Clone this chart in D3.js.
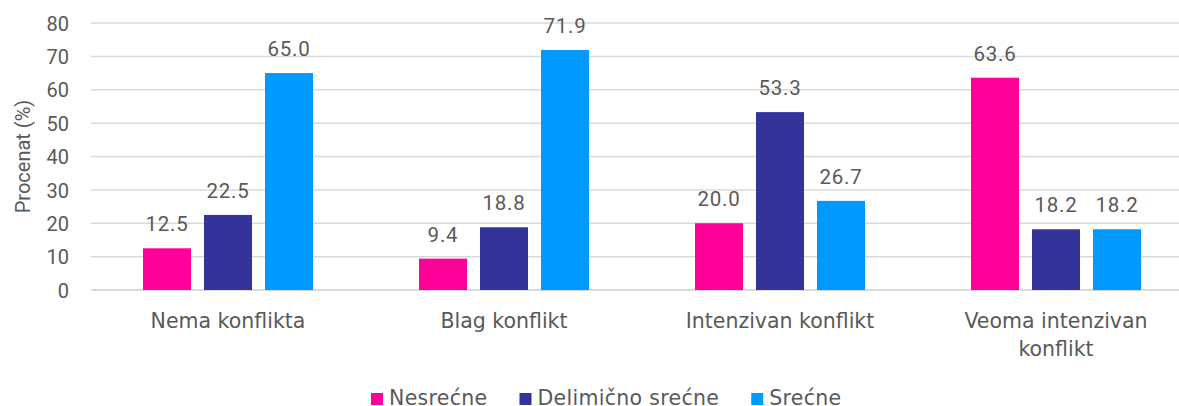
<!DOCTYPE html>
<html lang="sr">
<head>
    <meta charset="UTF-8">
    <title>Procenat po nivou konflikta</title>
    <style>
        body {
            margin: 0;
            background-color: white;
            overflow: hidden;
        }
        svg text {
            fill: #595959;
        }
    </style>
    <script src="https://d3js.org/d3.v7.min.js"></script>
</head>
<body>
    <svg id="chart" width="1179" height="406"></svg>

    <script>
        const categories = ["Nema konflikta", "Blag konflikt", "Intenzivan konflikt", "Veoma intenzivan konflikt"];
        const seriesNames = ["Nesrećne", "Delimično srećne", "Srećne"];
        const nesrecne = [12.5, 9.4, 20.0, 63.6];
        const delimicno = [22.5, 18.8, 53.3, 18.2];
        const srecne = [65.0, 71.9, 26.7, 18.2];
        const yTicks = [0, 10, 20, 30, 40, 50, 60, 70, 80];
        const colors = ["#FF0099", "#333399", "#0099FF"];

        const seriesValues = [nesrecne, delimicno, srecne];
        const rows = categories.map((c, i) => ({
            category: c,
            values: seriesNames.map((s, j) => ({ series: s, value: seriesValues[j][i] }))
        }));

        const svg = d3.select("#chart");
        // the plot area runs past the right edge of the picture, as in the original
        const plotLeft = 90, plotRight = 1194, plotTop = 23, plotBottom = 290;

        const x0 = d3.scaleBand().domain(categories).range([plotLeft, plotRight]).padding(0);
        const x1 = d3.scaleBand().domain(seriesNames).range([53, 223]).paddingInner(0.213).paddingOuter(0);
        const y = d3.scaleLinear().domain([0, 80]).range([plotBottom, plotTop]);
        const color = d3.scaleOrdinal().domain(seriesNames).range(colors);

        // gridlines
        svg.append("g")
            .selectAll("line")
            .data(yTicks)
            .enter().append("line")
            .attr("x1", plotLeft + 1)
            .attr("x2", plotRight)
            .attr("y1", d => y(d))
            .attr("y2", d => y(d))
            .attr("stroke", "#d9d9d9")
            .attr("stroke-width", d => d === 0 ? 2 : 1.5);

        // y axis labels
        const yAxis = svg.append("g")
            .attr("transform", `translate(${plotLeft - 21},0)`)
            .call(d3.axisLeft(y).tickValues(yTicks).tickSize(0).tickPadding(0));
        yAxis.select(".domain").remove();
        yAxis.selectAll("text")
            .attr("font-family", "Roboto")
            .attr("font-size", "20px")
            .attr("fill", "#595959")
            .attr("dy", "0.36em");

        svg.append("text")
            .attr("transform", `translate(30,${(plotTop + plotBottom) / 2}) rotate(-90)`)
            .attr("text-anchor", "middle")
            .attr("font-family", "Roboto")
            .attr("font-size", "20px")
            .text("Procenat (%)");

        // bars
        const groups = svg.append("g")
            .selectAll("g")
            .data(rows)
            .enter().append("g")
            .attr("transform", d => `translate(${x0(d.category)},0)`);

        groups.selectAll("rect")
            .data(d => d.values)
            .enter().append("rect")
            .attr("x", d => x1(d.series))
            .attr("y", d => y(d.value))
            .attr("width", x1.bandwidth())
            .attr("height", d => y(0) - y(d.value))
            .attr("fill", d => color(d.series));

        groups.selectAll("text.value")
            .data(d => d.values)
            .enter().append("text")
            .attr("class", "value")
            .attr("x", d => x1(d.series) + x1.bandwidth() / 2)
            .attr("y", d => y(d.value) - 17)
            .attr("text-anchor", "middle")
            .attr("font-family", "Roboto")
            .attr("font-size", "20.5px")
            .attr("letter-spacing", "0.8px")
            .text(d => d.value.toFixed(1));

        // category labels, wrapped to the band width
        const catLabels = svg.append("g")
            .selectAll("text")
            .data(categories)
            .enter().append("text")
            .attr("x", d => x0(d) + x0.bandwidth() / 2)
            .attr("y", 328)
            .attr("text-anchor", "middle")
            .attr("font-family", "DejaVu Sans")
            .attr("font-size", "20.5px");

        catLabels.each(function (d) {
            const text = d3.select(this);
            const words = d.split(" ");
            const cx = x0(d) + x0.bandwidth() / 2;
            let line = [];
            let tspan = text.append("tspan").attr("x", cx).attr("dy", 0);
            words.forEach(w => {
                line.push(w);
                tspan.text(line.join(" "));
                if (tspan.node().getComputedTextLength() > 240 && line.length > 1) {
                    line.pop();
                    tspan.text(line.join(" "));
                    line = [w];
                    tspan = text.append("tspan").attr("x", cx).attr("dy", 28).text(w);
                }
            });
        });

        // legend
        const legend = svg.append("g").attr("transform", "translate(371,0)");
        let lx = 0;
        seriesNames.forEach((s, i) => {
            const item = legend.append("g").attr("transform", `translate(${lx},0)`);
            item.append("rect")
                .attr("x", 0)
                .attr("y", 393)
                .attr("width", 12)
                .attr("height", 12)
                .attr("fill", colors[i]);
            const t = item.append("text")
                .attr("x", 18)
                .attr("y", 405)
                .attr("font-family", "DejaVu Sans")
                .attr("font-size", "20.5px")
                .attr("letter-spacing", "0.3px")
                .text(s);
            lx += 18 + t.node().getComputedTextLength() + 32;
        });
    </script>
</body>
</html>
